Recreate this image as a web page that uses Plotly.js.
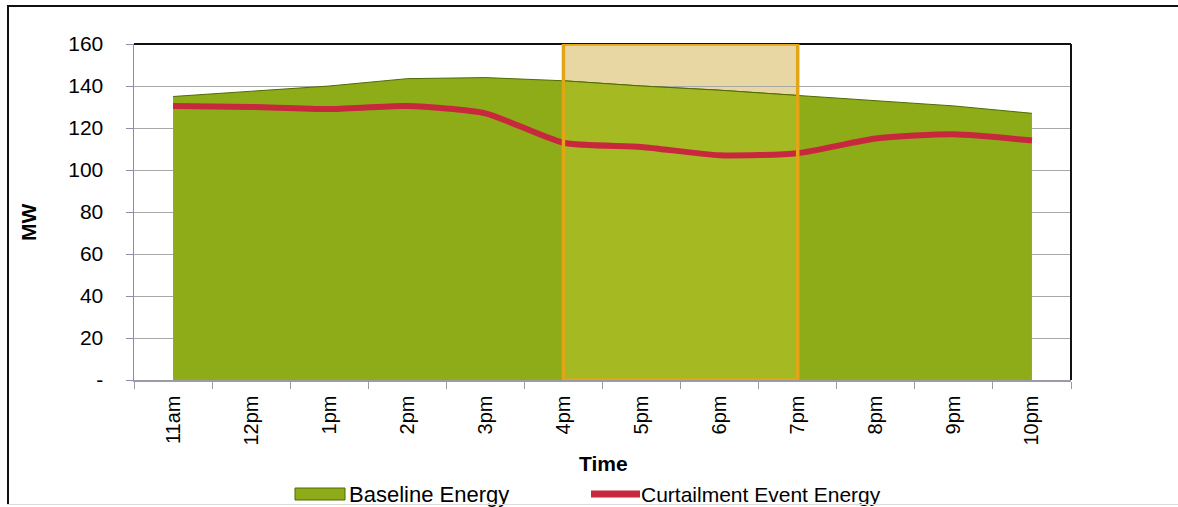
<!DOCTYPE html>
<html>
<head>
<meta charset="utf-8">
<script src="https://cdn.plot.ly/plotly-3.0.1.min.js"></script>
<style>
  html, body { margin: 0; padding: 0; background: #fff; overflow: hidden; }
  #wrap { position: relative; width: 1178px; height: 507px; overflow: hidden; }
  #chart { position: absolute; left: 0; top: 0; width: 1178px; height: 507px; }
  .fl { position: absolute; pointer-events: none; }
  #ftop { left: 7px; top: 5px; width: 1171px; height: 2px; background: #111; }
  #fleft { left: 7px; top: 5px; width: 2px; height: 500px; background: #111; }
  #fbot { left: 7px; top: 504px; width: 1171px; height: 1px; background: #dcdcdc; }
</style>
</head>
<body>
<div id="wrap">
  <div id="chart"></div>
  <div class="fl" id="ftop"></div>
  <div class="fl" id="fleft"></div>
  <div class="fl" id="fbot"></div>
</div>
<script>
const categories = ["11am","12pm","1pm","2pm","3pm","4pm","5pm","6pm","7pm","8pm","9pm","10pm"];
const baselineEnergy = [135, 137.5, 140, 143.5, 144, 142.5, 140, 138, 135.5, 133, 130.5, 127];
const curtailmentEnergy = [130.5, 130, 129, 130.5, 127, 113, 111, 107, 108, 115, 117, 114];
const yTickVals = [0, 20, 40, 60, 80, 100, 120, 140, 160];
const yTickText = ["-", "20", "40", "60", "80", "100", "120", "140", "160"];
const eventStart = "4pm";
const eventEnd = "7pm";
const seriesNames = ["Baseline Energy", "Curtailment Event Energy"];

const font = "Liberation Sans, Arial, sans-serif";
const GREEN = "#8DAC18";
const GREEN_IN = "#A5B923";
const OUTLINE = "#4F6B05";
const RED = "#C8283E";

const i0 = categories.indexOf(eventStart);
const i1 = categories.indexOf(eventEnd);

const traces = [
  {
    x: categories, y: baselineEnergy, type: "scatter", mode: "lines",
    name: seriesNames[0], fill: "tozeroy", fillcolor: GREEN,
    line: { color: OUTLINE, width: 1 }, hoverinfo: "skip"
  },
  {
    x: categories.slice(i0, i1 + 1), y: baselineEnergy.slice(i0, i1 + 1),
    type: "scatter", mode: "lines", fill: "tozeroy", fillcolor: GREEN_IN,
    line: { color: OUTLINE, width: 1 }, hoverinfo: "skip", showlegend: false
  },
  {
    x: categories, y: curtailmentEnergy, type: "scatter", mode: "lines",
    name: seriesNames[1],
    line: { color: RED, width: 6, shape: "spline", smoothing: 0.6 },
    hoverinfo: "skip"
  }
];

// paper-coordinate helpers for the hand-drawn legend and titles
const L = 134, T = 44, W = 937, H = 336;
const px = v => (v - L) / W;
const py = v => (T + H - v) / H;

const layout = {
  width: 1178, height: 507,
  margin: { l: L, r: 1178 - L - W, t: T, b: 507 - T - H },
  paper_bgcolor: "rgba(0,0,0,0)",
  plot_bgcolor: "#fff",
  font: { family: font, color: "#000", size: 21 },
  showlegend: false,
  xaxis: {
    type: "category", range: [-0.5, 11.5],
    tickson: "boundaries", ticks: "outside", ticklen: 7, tickcolor: "#9A9AA8",
    tickangle: -90, tickfont: { size: 20, family: font },
    ticklabelstandoff: 6,
    showline: true, linecolor: "#9A9AA8", linewidth: 1.5,
    showgrid: false, zeroline: false, fixedrange: true
  },
  yaxis: {
    range: [0, 160], tickvals: yTickVals, ticktext: yTickText,
    ticks: "outside", ticklen: 7, tickcolor: "#8C8CB0",
    tickfont: { size: 21, family: font },
    ticklabelstandoff: 18,
    showline: true, linecolor: "#8C8CB0", linewidth: 1.5,
    showgrid: true, gridcolor: "#A8A8A8", gridwidth: 1,
    zeroline: false, fixedrange: true
  },
  shapes: [
    { type: "rect", xref: "x", yref: "y", x0: eventStart, x1: eventEnd, y0: 0, y1: 160,
      fillcolor: "#E8D7A2", line: { width: 0 }, layer: "below" },
    { type: "line", xref: "paper", yref: "paper", x0: 0, x1: 1, y0: 1, y1: 1,
      line: { color: "#111", width: 2 } },
    { type: "line", xref: "paper", yref: "paper", x0: 1, x1: 1, y0: 0, y1: 1,
      line: { color: "#111", width: 2 } },
    { type: "rect", xref: "x", yref: "y", x0: eventStart, x1: eventEnd, y0: 0, y1: 160,
      fillcolor: "rgba(0,0,0,0)", line: { color: "#E2A516", width: 3.5 }, layer: "above" },
    // legend swatches
    { type: "rect", xref: "paper", yref: "paper", x0: px(295), x1: px(345), y0: py(500), y1: py(488),
      fillcolor: GREEN, line: { color: OUTLINE, width: 1 } },
    { type: "line", xref: "paper", yref: "paper", x0: px(591), x1: px(640), y0: py(494), y1: py(494),
      line: { color: RED, width: 7 } }
  ],
  annotations: [
    { text: "<b>MW</b>", xref: "paper", yref: "paper", x: px(28), y: py(223),
      xanchor: "center", yanchor: "middle", textangle: -90, showarrow: false,
      font: { size: 21, family: font } },
    { text: "<b>Time</b>", xref: "paper", yref: "paper", x: px(603), y: py(463),
      xanchor: "center", yanchor: "middle", showarrow: false,
      font: { size: 21, family: font } },
    { text: seriesNames[0], xref: "paper", yref: "paper", x: px(347), y: py(494),
      xanchor: "left", yanchor: "middle", showarrow: false,
      font: { size: 22, family: font } },
    { text: seriesNames[1], xref: "paper", yref: "paper", x: px(639), y: py(494),
      xanchor: "left", yanchor: "middle", showarrow: false,
      font: { size: 21, family: font } }
  ]
};

Plotly.newPlot("chart", traces, layout, { displayModeBar: false, staticPlot: true });
</script>
</body>
</html>
